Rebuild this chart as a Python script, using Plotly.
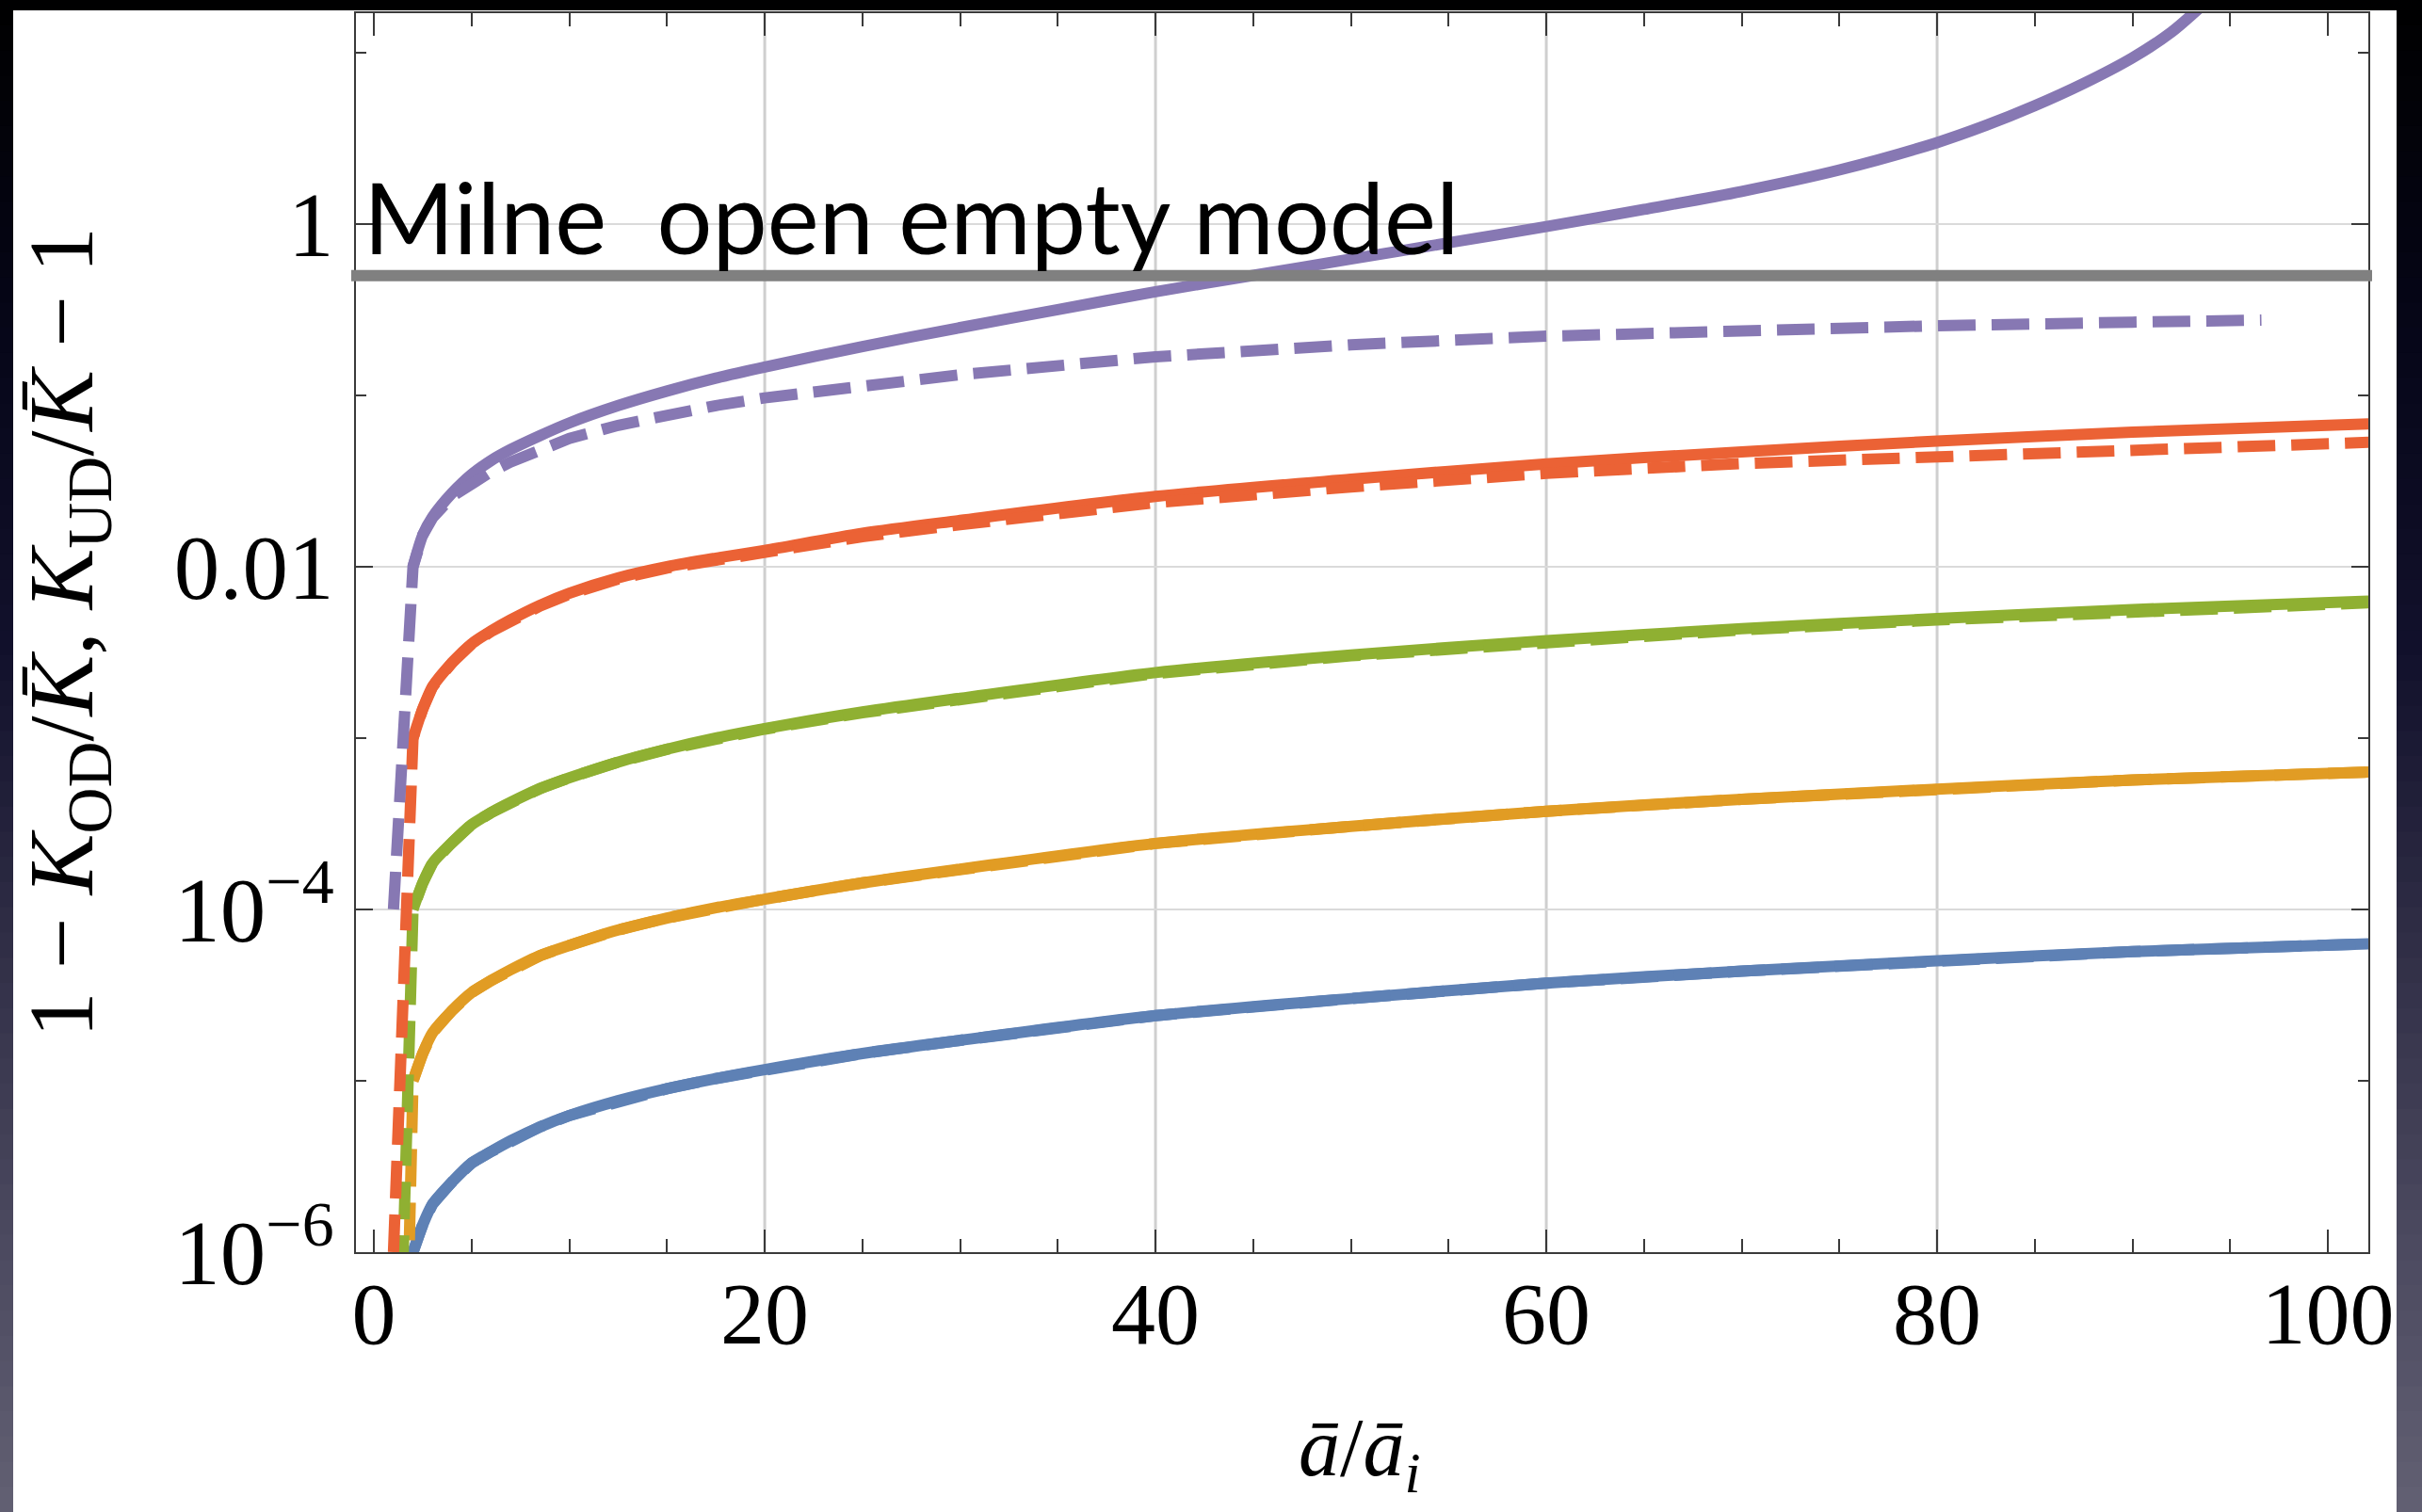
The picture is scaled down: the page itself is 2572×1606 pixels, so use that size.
import plotly.graph_objects as go

# ---------------- data (log10 of the plotted value) ----------------
x_solid = [2, 2.5, 3, 4, 5, 6, 7, 8.5, 10, 12.5, 15, 17.5, 20, 25, 30, 40, 50, 60, 70, 80, 90, 102.2]
x_dashed = [1, 2, 2.5, 3, 4, 5, 6, 7, 8.5, 10, 12.5, 15, 17.5, 20, 25, 30, 40, 50, 60, 70, 80, 90, 102.2]

blue_solid_log = [-6.0, -5.84, -5.72, -5.59, -5.48, -5.413, -5.35, -5.269, -5.203, -5.116, -5.046, -4.987, -4.935, -4.841, -4.764, -4.62, -4.52, -4.43, -4.36, -4.30, -4.246, -4.2]
orange_solid_log = [-5.0, -4.84, -4.72, -4.59, -4.485, -4.415, -4.352, -4.27, -4.21, -4.12, -4.05, -3.99, -3.94, -3.845, -3.765, -3.615, -3.515, -3.427, -3.357, -3.298, -3.245, -3.198]
green_solid_log = [-4.0, -3.845, -3.73, -3.61, -3.505, -3.435, -3.375, -3.295, -3.232, -3.14, -3.065, -3.0, -2.945, -2.848, -2.768, -2.618, -2.515, -2.432, -2.362, -2.303, -2.25, -2.2]
red_solid_log = [-3.0, -2.83, -2.70, -2.56, -2.45, -2.375, -2.31, -2.225, -2.155, -2.065, -2.0, -1.95, -1.905, -1.805, -1.73, -1.59, -1.49, -1.40, -1.33, -1.267, -1.215, -1.166]

blue_dashed_log = [-12.0, -6.0, -5.84, -5.72, -5.59, -5.48, -5.413, -5.35, -5.269, -5.203, -5.116, -5.046, -4.987, -4.935, -4.841, -4.764, -4.62, -4.52, -4.43, -4.36, -4.30, -4.246, -4.2]
orange_dashed_log = [-10.0, -5.0, -4.84, -4.72, -4.59, -4.485, -4.415, -4.352, -4.27, -4.21, -4.12, -4.05, -3.99, -3.94, -3.845, -3.765, -3.615, -3.515, -3.427, -3.357, -3.298, -3.245, -3.198]
green_dashed_log = [-8.0, -4.0, -3.845, -3.73, -3.61, -3.505, -3.435, -3.375, -3.295, -3.232, -3.14, -3.066, -3.002, -2.948, -2.852, -2.772, -2.623, -2.52, -2.438, -2.369, -2.311, -2.259, -2.21]
red_dashed_log = [-6.0, -3.0, -2.83, -2.70, -2.56, -2.452, -2.378, -2.314, -2.23, -2.16, -2.072, -2.008, -1.96, -1.921, -1.825, -1.755, -1.626, -1.535, -1.455, -1.398, -1.355, -1.313, -1.274]

x_purple_solid = [2, 2.5, 3, 4, 5, 6, 7, 8.5, 10, 12.5, 15, 17.5, 20, 25, 30, 35, 40, 45, 50, 55, 60, 65, 70, 75, 80, 82.5, 85, 87.5, 90, 92, 94]
purple_solid_log = [-2.0, -1.815, -1.71, -1.57, -1.462, -1.38, -1.316, -1.235, -1.161, -1.06, -0.975, -0.9, -0.835, -0.715, -0.605, -0.5, -0.395, -0.30, -0.205, -0.11, -0.015, 0.085, 0.19, 0.315, 0.475, 0.575, 0.69, 0.82, 0.97, 1.12, 1.32]

x_purple_dashed = [1, 2, 2.5, 3, 4, 5, 6, 7, 8.5, 10, 12.5, 15, 17.5, 20, 25, 30, 40, 50, 60, 70, 80, 90, 96.6]
purple_dashed_log = [-4.0, -2.0, -1.815, -1.715, -1.59, -1.516, -1.445, -1.389, -1.315, -1.252, -1.175, -1.115, -1.06, -1.015, -0.94, -0.88, -0.775, -0.705, -0.655, -0.62, -0.594, -0.573, -0.561]

milne_level = 0.5
milne_label = "Milne\u00a0 open empty model"

x_tick_vals = [0, 20, 40, 60, 80, 100]
x_tick_text = ["0", "20", "40", "60", "80", "100"]
x_grid_vals = [20, 40, 60, 80]
y_tick_vals = [1e-6, 1e-4, 1e-2, 1]
y_tick_text = ["10<sup>\u22126</sup>", "10<sup>\u22124</sup>", "0.01", "1"]
y_minor_vals = [1e-5, 1e-3, 1e-1, 10]
y_grid_vals = [1e-4, 1e-2, 1]

x_title = "<i>\u0101</i>/<i>\u0101</i><sub><i>i</i></sub>"
y_title = ("1 \u2212 <i>K</i><sub>OD</sub>/<i>K\u0304</i>, "
           "<i>K</i><sub>UD</sub>/<i>K\u0304</i> \u2212 1")

# ---------------- styling ----------------
W, H = 2572, 1606
L, R, T, B = 378, 57, 14, 276
PW, PH = W - L - R, H - T - B

def xp(px):
    return (px - L) / PW

def yp(py):
    return (H - B - py) / PH

C_BLUE = "#5E81B5"
C_ORANGE = "#E19C24"
C_GREEN = "#8FB032"
C_RED = "#EB6235"
C_PURPLE = "#8778B3"
LW = 12
DASH = "40px,17px"
FRAME = "#3a3a3a"
SERIF = "Liberation Serif"

def vals(logs):
    return [10 ** v for v in logs]

fig = go.Figure()

solid = [
    (x_solid, blue_solid_log, C_BLUE),
    (x_solid, orange_solid_log, C_ORANGE),
    (x_solid, green_solid_log, C_GREEN),
    (x_solid, red_solid_log, C_RED),
    (x_purple_solid, purple_solid_log, C_PURPLE),
]
dashed = [
    (x_dashed, blue_dashed_log, C_BLUE),
    (x_dashed, orange_dashed_log, C_ORANGE),
    (x_dashed, green_dashed_log, C_GREEN),
    (x_dashed, red_dashed_log, C_RED),
    (x_purple_dashed, purple_dashed_log, C_PURPLE),
]
for xs, ls, c in solid:
    fig.add_trace(go.Scatter(x=xs, y=vals(ls), mode="lines",
                             line=dict(color=c, width=LW, shape="spline", smoothing=0.8),
                             showlegend=False, hoverinfo="skip"))
for xs, ls, c in dashed:
    fig.add_trace(go.Scatter(x=xs, y=vals(ls), mode="lines",
                             line=dict(color=c, width=LW, dash=DASH),
                             showlegend=False, hoverinfo="skip"))

shapes = []
# slide background: dark gradient bands + white page
stops = [(0, (0, 0, 0)), (350, (6, 6, 24)), (700, (18, 17, 44)), (1000, (48, 46, 70)),
         (1300, (74, 72, 94)), (1606, (98, 96, 115))]

def grad(py):
    for (y0, c0), (y1, c1) in zip(stops[:-1], stops[1:]):
        if y0 <= py <= y1:
            t = (py - y0) / (y1 - y0)
            return "rgb(%d,%d,%d)" % tuple(round(a + (b - a) * t) for a, b in zip(c0, c1))
    return "rgb(98,96,115)"

N = 60
for i in range(N):
    ya, yb = i * H / N, (i + 1) * H / N + 1
    shapes.append(dict(type="rect", xref="paper", yref="paper", x0=xp(0), x1=xp(W),
                       y0=yp(yb), y1=yp(ya), line=dict(width=0), fillcolor=grad((ya + yb) / 2),
                       layer="below"))
shapes.append(dict(type="rect", xref="paper", yref="paper", x0=xp(14), x1=xp(2545),
                   y0=yp(H + 5), y1=yp(11), line=dict(width=0), fillcolor="white", layer="below"))
# grid lines
for gx in x_grid_vals:
    shapes.append(dict(type="line", xref="x", yref="paper", x0=gx, x1=gx, y0=0, y1=1,
                       line=dict(color="#cfcfcf", width=3), layer="below"))
for gy in y_grid_vals:
    shapes.append(dict(type="line", xref="paper", yref="y", x0=0, x1=1, y0=gy, y1=gy,
                       line=dict(color="#dadada", width=2), layer="below"))
# Milne reference line
shapes.append(dict(type="line", xref="paper", yref="y", x0=xp(373), x1=xp(2519),
                   y0=milne_level, y1=milne_level, line=dict(color="#808080", width=12),
                   layer="above"))

annotations = [
    dict(text=milne_label, xref="paper", yref="paper", x=xp(384), y=yp(165),
         xanchor="left", yanchor="top", showarrow=False,
         font=dict(family="Lato", size=104, color="black")),
    dict(text=y_title, xref="paper", yref="paper", x=xp(72), y=0.5, textangle=-90,
         xanchor="center", yanchor="middle", showarrow=False,
         font=dict(family=SERIF, size=97, color="black")),
    dict(text=x_title, xref="paper", yref="paper", x=xp(1444), y=yp(1543),
         xanchor="center", yanchor="middle", showarrow=False,
         font=dict(family=SERIF, size=88, color="black")),
]

fig.update_layout(
    width=W, height=H,
    margin=dict(l=L, r=R, t=T, b=B, pad=0),
    paper_bgcolor="black", plot_bgcolor="white",
    shapes=shapes, annotations=annotations,
    showlegend=False,
    xaxis=dict(range=[-0.92, 102.07], tickmode="array", tickvals=x_tick_vals, ticktext=x_tick_text,
               ticks="inside", ticklen=24, tickwidth=2, tickcolor=FRAME,
               showline=True, linecolor=FRAME, linewidth=2, mirror="ticks",
               showgrid=False, zeroline=False,
               minor=dict(dtick=5, tick0=0, ticks="inside", ticklen=14, tickwidth=2,
                          tickcolor=FRAME, showgrid=False),
               tickfont=dict(family=SERIF, size=94, color="black"),
               ticklabelstandoff=-18),
    yaxis=dict(type="log", range=[-6, 1.23], tickmode="array", tickvals=y_tick_vals,
               ticktext=y_tick_text,
               ticks="inside", ticklen=18, tickwidth=2, tickcolor=FRAME,
               showline=True, linecolor=FRAME, linewidth=2, mirror="ticks",
               showgrid=False, zeroline=False,
               minor=dict(tickmode="array", tickvals=y_minor_vals, ticks="inside", ticklen=11,
                          tickwidth=2, tickcolor=FRAME, showgrid=False),
               tickfont=dict(family=SERIF, size=97, color="black"),
               ticklabelstandoff=2),
)

fig.write_html("out.html")
